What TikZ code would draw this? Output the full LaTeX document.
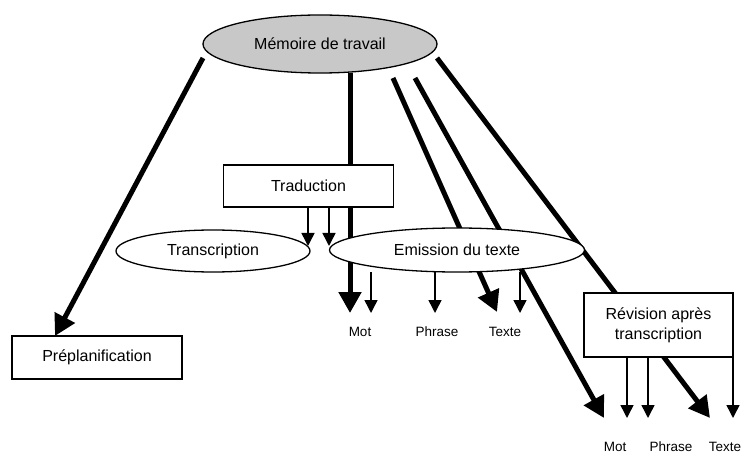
\documentclass[tikz,border=0pt]{standalone}
\usepackage{fontspec}
\setmainfont{Liberation Sans}
\usetikzlibrary{arrows.meta,shapes.geometric,backgrounds}
\definecolor{gris}{RGB}{200,200,200}

\begin{document}
\begin{tikzpicture}[x=1pt,y=-1pt,
  ovale/.style={ellipse,draw,line width=1.3pt,fill=white,inner sep=0pt,outer sep=0pt,font=\fontsize{16}{19}\selectfont},
  boite/.style={rectangle,draw,line width=1.3pt,fill=white,inner sep=0pt,outer sep=0pt,align=center,font=\fontsize{16}{20}\selectfont},
  etiquette/.style={font=\fontsize{13.5}{16}\selectfont},
  fine/.style={line width=1.5pt,-{Triangle[length=13pt,width=13pt]}},
  epaisse/.style={line width=5pt,-{Triangle[length=21pt,width=22pt]}}]
\useasboundingbox (0,0) rectangle (741,454);

%Draw Nodes
\node[ovale,fill=gris,minimum width=234pt,minimum height=58pt] (mem) at (320,44) {Mémoire de travail};
\node[boite,minimum width=170pt,minimum height=42pt] (trad) at (308.5,186) {Traduction};
\node[ovale,minimum width=194pt,minimum height=42pt] (transc) at (213,251) {Transcription};
\node[ovale,minimum width=255pt,minimum height=44pt] (emis) at (457,250) {Emission du texte};
\node[boite,minimum width=170pt,minimum height=43pt] (prep) at (97,357.5) {Préplanification};
\node[boite,minimum width=149pt,minimum height=64pt] (rev) at (658.5,325) {Révision après\\transcription};

%Draw Labels
\node[etiquette] (motA) at (360,332) {Mot};
\node[etiquette] (phrA) at (437,332) {Phrase};
\node[etiquette] (texA) at (505,332) {Texte};
\node[etiquette] (motB) at (615,447) {Mot};
\node[etiquette] (phrB) at (671,447) {Phrase};
\node[etiquette] (texB) at (725,447) {Texte};

%Arrow Ends
\coordinate (t1) at (308,246);
\coordinate (t2) at (329,246);
\coordinate (e1) at (371,313);
\coordinate (e2) at (435,313);
\coordinate (e3) at (520,313);
\coordinate (r1) at (627,418);
\coordinate (r2) at (648,418);
\coordinate (r3) at (733,418);
\coordinate (k1) at (350,313);
\coordinate (k2) at (497,312);
\coordinate (k3) at (604,418);
\coordinate (k4) at (710,418);

%Draw Thick Arrows
\begin{pgfonlayer}{background}
\draw[epaisse] ([yshift=-14pt]mem.west) -- ([xshift=-42pt]prep.north);
\draw[epaisse] (mem.south -| k1) -- (k1);
\draw[epaisse] ([xshift=73pt,yshift=-5pt]mem.south) -- (k2);
\draw[epaisse] ([xshift=95pt,yshift=-5pt]mem.south) -- (k3);
\draw[epaisse] ([yshift=-14pt]mem.east) -- (k4);
\end{pgfonlayer}

%Draw Thin Arrows
\draw[fine] (trad.south -| t1) -- (t1);
\draw[fine] (trad.south -| t2) -- (t2);
\draw[fine] (emis.south -| e1) -- (e1);
\draw[fine] (emis.south -| e2) -- (e2);
\draw[fine] (emis.south -| e3) -- (e3);
\draw[fine] (rev.south -| r1) -- (r1);
\draw[fine] (rev.south -| r2) -- (r2);
\draw[fine] (rev.south -| r3) -- (r3);

\end{tikzpicture}
\end{document}
